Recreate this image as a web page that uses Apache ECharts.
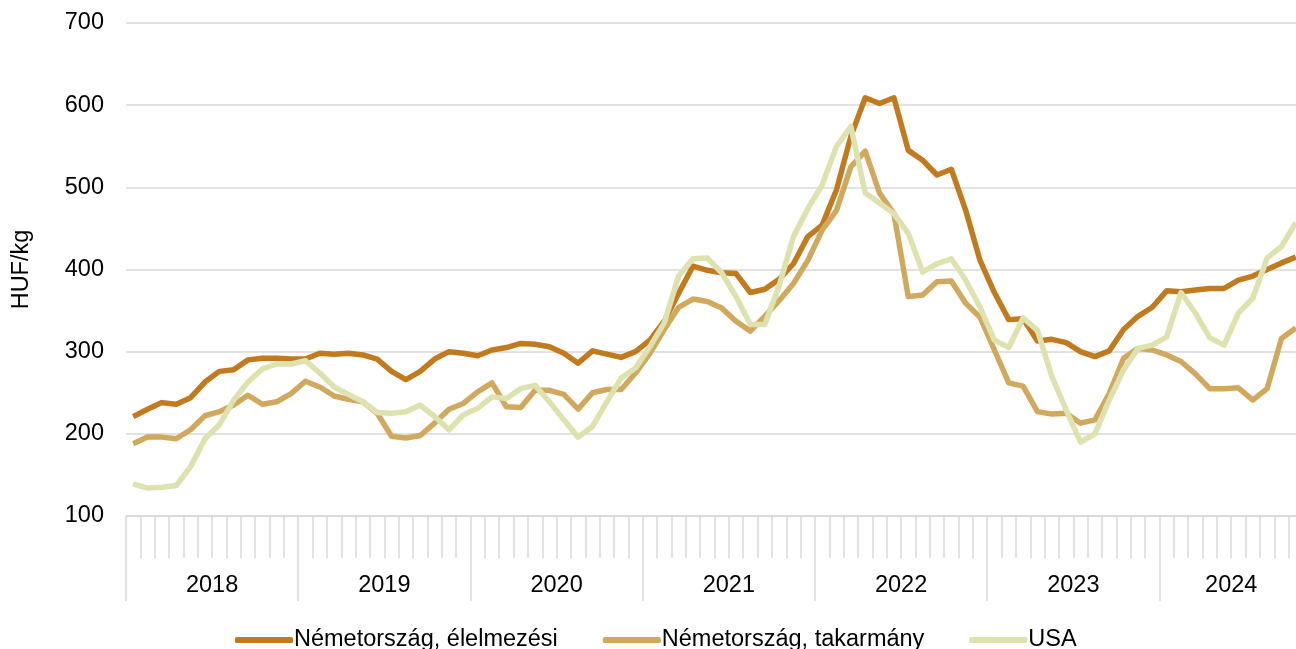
<!DOCTYPE html>
<html>
<head>
<meta charset="utf-8">
<script src="https://cdn.jsdelivr.net/npm/echarts@6/dist/echarts.min.js"></script>
<style>
  html, body { margin: 0; padding: 0; background: #fff; }
  #chart { width: 1296px; height: 649px; }
</style>
</head>
<body>
<div id="chart"></div>
<script>
// havi adatok 2018 jan - 2024 okt
const years = ['2018', '2019', '2020', '2021', '2022', '2023', '2024'];
const months = [];
years.forEach(function (y) {
  for (let m = 1; m <= 12; m++) {
    if (y === '2024' && m > 10) break;
    months.push(y + '-' + (m < 10 ? '0' + m : m));
  }
});

const yTicks = [100, 200, 300, 400, 500, 600, 700];

const elelmezesi = [
  221, 230, 238, 236, 244, 263, 276, 278, 290, 292, 292, 291,
  291, 298, 297, 298, 296, 291, 276, 266, 276, 291, 300, 298,
  295, 302, 305, 310, 309, 306, 298, 286, 301, 297, 293, 300,
  314, 337, 371, 404, 399, 396, 395, 372, 376, 388, 407, 440,
  454, 497, 562, 609, 602, 609, 545, 533, 515, 522, 472, 411,
  372, 339, 340, 313, 315, 311, 300, 294, 301, 327, 343, 354,
  374, 373, 375, 377, 377, 387, 392, 400, 408, 415
];
const takarmany = [
  188, 196, 196, 194, 205, 222, 227, 235, 247, 236, 239, 249,
  264, 257, 246, 242, 239, 225, 197, 195, 198, 213, 230, 237,
  251, 262, 233, 232, 253, 253, 248, 230, 250, 254, 254, 274,
  298, 327, 354, 364, 361, 353, 337, 325, 343, 362, 383, 411,
  448, 472, 525, 544, 493, 468, 367, 369, 385, 386, 359, 342,
  302, 262, 258, 227, 224, 225, 213, 217, 249, 292, 304, 302,
  296, 288, 273, 255, 255, 256, 241, 255, 316, 329
];
const usa = [
  139, 134, 135, 137, 160, 194, 211, 241, 263, 279, 285, 285,
  289, 274, 257, 248, 239, 226, 225, 227, 235, 221, 205, 223,
  231, 245, 243, 255, 259, 239, 217, 196, 209, 239, 268, 280,
  306, 335, 392, 413, 414, 396, 367, 333, 333, 380, 440, 474,
  503, 550, 574, 493, 481, 468, 444, 397, 407, 413, 387, 354,
  314, 305, 341, 326, 270, 229, 190, 200, 241, 278, 304, 308,
  318, 372, 347, 317, 308, 347, 365, 414, 428, 457
];

const seriesNames = ['Németország, élelmezési', 'Németország, takarmány', 'USA'];
const seriesColors = ['#C27A1F', '#D0A95F', '#DDE2AE'];

// év határok és év címkék pozíciói (hónap index)
const yearStarts = years.map(function (y, i) { return i * 12; });
const yearCenters = years.map(function (y, i) {
  const len = Math.min(12, months.length - i * 12);
  return i * 12 + len / 2;
});

const FONT = '"Liberation Sans", Arial, sans-serif';
const FS = 23.5;
const GRID_COLOR = '#d9d9d9';

let chart = echarts.init(document.getElementById('chart'));
chart.setOption({
  animation: false,
  backgroundColor: '#fff',
  textStyle: { fontFamily: FONT },
  grid: {
    left: 126,
    right: -7,
    top: 23,
    bottom: 133,
    containLabel: false,
    outerBoundsMode: 'none'
  },
  legend: {
    left: 230,
    top: 623,
    itemWidth: 58,
    itemHeight: 6,
    itemGap: 45,
    icon: 'roundRect',
    textStyle: { fontSize: FS, color: '#000', fontFamily: FONT, padding: [0, 0, 0, -4] },
    data: seriesNames
  },
  xAxis: [
    {
      type: 'category',
      data: months,
      boundaryGap: true,
      axisLine: { show: true, lineStyle: { color: GRID_COLOR, width: 1.5 } },
      axisTick: { show: true, interval: 0, length: 42, lineStyle: { color: GRID_COLOR, width: 1.5 } },
      axisLabel: { show: false },
      splitLine: { show: false }
    },
    {
      type: 'value',
      position: 'bottom',
      min: 0,
      max: months.length,
      axisLine: { show: false },
      splitLine: { show: false },
      axisTick: {
        show: true,
        length: 85,
        customValues: yearStarts,
        lineStyle: { color: GRID_COLOR, width: 1.5 }
      },
      axisLabel: {
        show: true,
        customValues: yearCenters,
        margin: 58,
        fontSize: FS,
        color: '#000',
        fontFamily: FONT,
        formatter: function (v) { return years[Math.floor(v / 12)]; }
      }
    }
  ],
  yAxis: {
    type: 'value',
    min: yTicks[0],
    max: yTicks[yTicks.length - 1],
    interval: 100,
    name: 'HUF/kg',
    nameLocation: 'middle',
    nameRotate: 90,
    nameGap: 92,
    nameTextStyle: { fontSize: FS, color: '#000', fontFamily: FONT },
    axisLine: { show: false },
    axisTick: { show: false },
    axisLabel: { fontSize: FS, color: '#000', margin: 22, fontFamily: FONT },
    splitLine: { show: true, lineStyle: { color: GRID_COLOR, width: 1.5 } }
  },
  series: [elelmezesi, takarmany, usa].map(function (d, i) {
    return {
      name: seriesNames[i],
      type: 'line',
      xAxisIndex: 0,
      data: d,
      color: seriesColors[i],
      symbol: 'none',
      smooth: false,
      lineStyle: { width: 5.5, join: 'round' }
    };
  })
});
</script>
</body>
</html>
